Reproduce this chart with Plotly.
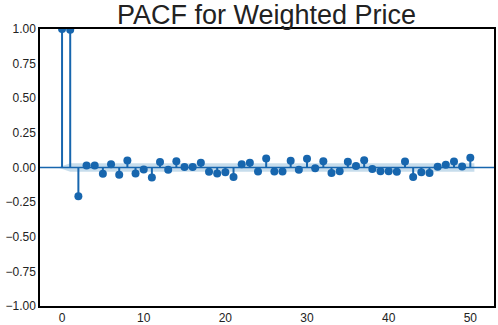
import plotly.graph_objects as go

lags = list(range(51))
pacf_values = [1.0, 0.995, -0.208, 0.015, 0.015, -0.046, 0.024, -0.053, 0.051, -0.043,
               -0.014, -0.072, 0.039, -0.017, 0.046, 0.003, 0.003, 0.034, -0.031, -0.043,
               -0.034, -0.068, 0.024, 0.034, -0.029, 0.065, -0.029, -0.029, 0.048, -0.017,
               0.063, -0.005, 0.046, -0.039, -0.027, 0.041, 0.010, 0.053, -0.010, -0.027,
               -0.027, -0.031, 0.043, -0.068, -0.034, -0.039, 0.005, 0.019, 0.043, 0.007,
               0.070]
conf_halfwidth = [0.0] + [0.031] * 50
title_text = "PACF for Weighted Price"
y_ticks = [-1.0, -0.75, -0.5, -0.25, 0.0, 0.25, 0.5, 0.75, 1.0]
x_ticks = [0, 10, 20, 30, 40, 50]

C0 = "#1766ae"

band_x = [l for l in lags]
band_x[0] = -0.5
band_x[-1] = 50.5

fig = go.Figure()

# confidence band
fig.add_trace(go.Scatter(x=band_x, y=conf_halfwidth, mode="lines", line=dict(width=0),
                         hoverinfo="skip", showlegend=False))
fig.add_trace(go.Scatter(x=band_x, y=[-c for c in conf_halfwidth], mode="lines",
                         line=dict(width=0), fill="tonexty",
                         fillcolor="rgba(31,119,180,0.25)", hoverinfo="skip", showlegend=False))

# stems
sx, sy = [], []
for l, v in zip(lags, pacf_values):
    sx += [l, l, None]
    sy += [0, v, None]
fig.add_trace(go.Scatter(x=sx, y=sy, mode="lines", line=dict(color=C0, width=2),
                         showlegend=False, hoverinfo="skip"))

# markers
fig.add_trace(go.Scatter(x=lags, y=pacf_values, mode="markers",
                         marker=dict(color=C0, size=8, line=dict(width=0)),
                         showlegend=False))

# zero line across full width
fig.add_shape(type="line", xref="paper", yref="y", x0=0, x1=1, y0=0, y1=0,
              line=dict(color=C0, width=1.5))

fig.update_layout(
    width=498, height=325,
    margin=dict(l=40, r=4, t=29, b=19),
    paper_bgcolor="white", plot_bgcolor="white",
    title=dict(text=title_text, x=0.535, xanchor="center", y=0.955, yanchor="middle",
               font=dict(family="Liberation Sans, Arial, sans-serif", size=27, color="#222222")),
    font=dict(family="Liberation Sans, Arial, sans-serif", size=12, color="#222222"),
    xaxis=dict(range=[-2.7, 52.9], tickvals=x_ticks, showgrid=False, zeroline=False,
               showline=True, linecolor="black", linewidth=1.5, mirror=True, ticks="",
               ticklen=0, automargin=False),
    yaxis=dict(range=[-1, 1], tickvals=y_ticks, tickformat=".2f", showgrid=False,
               zeroline=False, showline=True, linecolor="black", linewidth=1.5, mirror=True,
               ticks="", ticklen=0, automargin=False),
)

fig.write_html("out.html", config={"displayModeBar": False},
               post_script="document.body.style.margin='0';document.body.style.overflow='hidden';")
